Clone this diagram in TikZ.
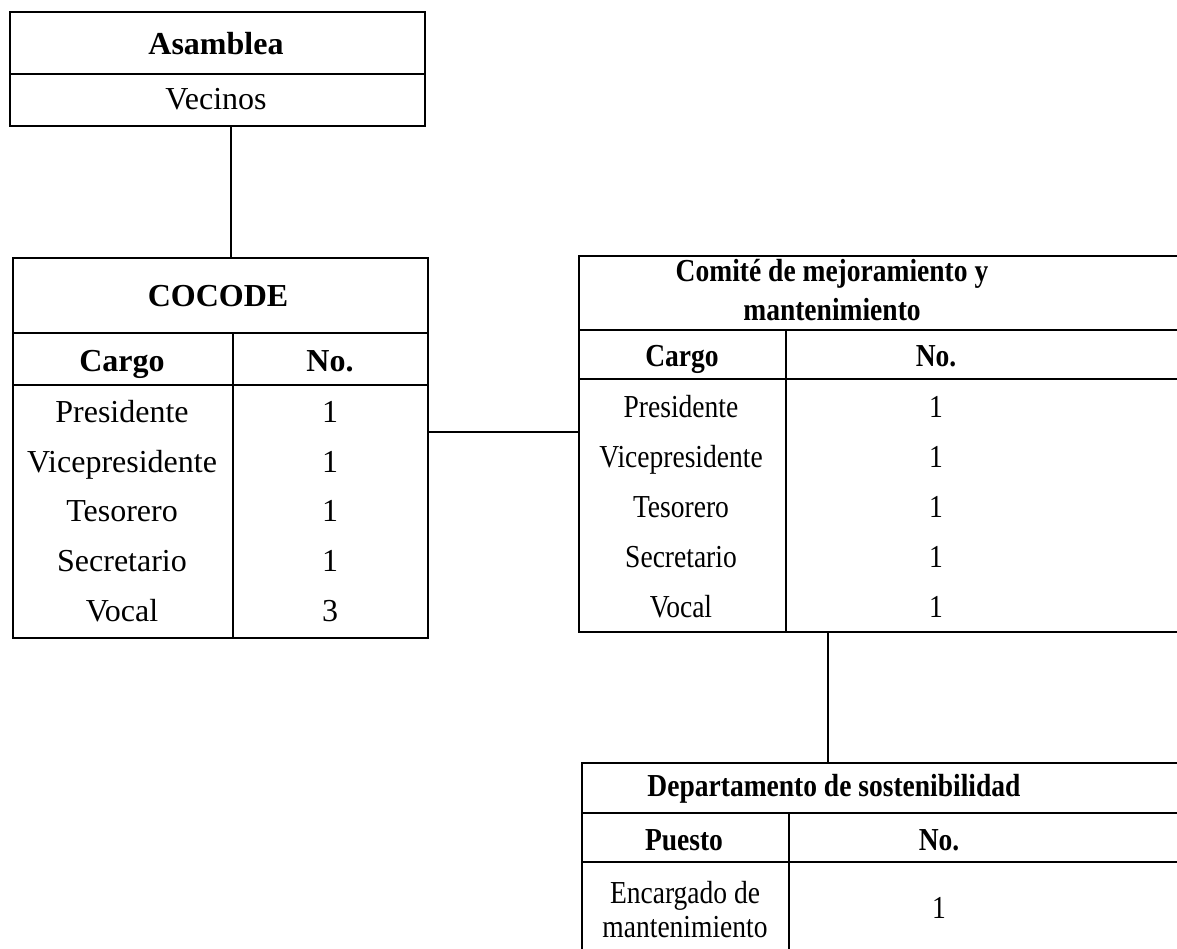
\documentclass[tikz,border=0pt]{standalone}
\usepackage{fontspec}
\setmainfont{Liberation Serif}
\newfontfamily\narrowfont{Liberation Serif}[FakeStretch=0.86]
\begin{document}
\begin{tikzpicture}[x=1pt,y=-1pt,
  line width=1.6pt,
  tbox/.style={draw=black, line width=1.6pt, inner sep=0pt, anchor=north west},
  lt/.style={anchor=base, inner sep=0pt, font=\fontsize{32}{36}\selectfont},
  lb/.style={lt, font=\fontsize{32}{36}\selectfont\bfseries},
  rt/.style={anchor=base, inner sep=0pt, font=\fontsize{32}{36}\selectfont\narrowfont},
  rb/.style={rt, font=\fontsize{32}{36}\selectfont\narrowfont\bfseries},
  conn/.style={draw=black, line width=1.6pt}]
\useasboundingbox (0,0) rectangle (1177,949);
\clip (0,0) rectangle (1177,949);
% Asamblea
\node[tbox, minimum width=415pt, minimum height=114pt] (asm) at (9,11) {};
\draw (asm.west |- 0,74) -- (asm.east |- 0,74);
\node[lb] (asmT) at (216,55) {Asamblea};
\node[lt] (asmV) at (216,110) {Vecinos};
% COCODE
\node[tbox, minimum width=415pt, minimum height=380pt] (coc) at (12,257) {};
\draw (coc.west |- 0,333) -- (coc.east |- 0,333);
\draw (coc.west |- 0,385) -- (coc.east |- 0,385);
\draw (233,333) -- (coc.south -| 233,0);
\node[lb] (cocT) at (218,307) {COCODE};
\node[lb] (cocC) at (122,371) {Cargo};
\node[lb] (cocN) at (330,371) {No.};
\node[lt] (c1) at (122,422) {Presidente};
\node[lt] (c2) at (122,472) {Vicepresidente};
\node[lt] (c3) at (122,521) {Tesorero};
\node[lt] (c4) at (122,571) {Secretario};
\node[lt] (c5) at (122,621) {Vocal};
\node[lt] (n1) at (330,422) {1};
\node[lt] (n2) at (330,472) {1};
\node[lt] (n3) at (330,521) {1};
\node[lt] (n4) at (330,571) {1};
\node[lt] (n5) at (330,621) {3};
% Comite
\node[tbox, minimum width=620pt, minimum height=376pt] (com) at (578,255) {};
\draw (com.west |- 0,330) -- (com.east |- 0,330);
\draw (com.west |- 0,379) -- (com.east |- 0,379);
\draw (786,330) -- (com.south -| 786,0);
\node[rb] (comT1) at (832,282) {Comité de mejoramiento y};
\node[rb] (comT2) at (832,320) {mantenimiento};
\node[rb] (comC) at (682,366) {Cargo};
\node[rb] (comN) at (936,366) {No.};
\node[rt] (r1) at (681,417) {Presidente};
\node[rt] (r2) at (681,467) {Vicepresidente};
\node[rt] (r3) at (681,517) {Tesorero};
\node[rt] (r4) at (681,567) {Secretario};
\node[rt] (r5) at (681,617) {Vocal};
\node[rt] (m1) at (936,417) {1};
\node[rt] (m2) at (936,467) {1};
\node[rt] (m3) at (936,517) {1};
\node[rt] (m4) at (936,567) {1};
\node[rt] (m5) at (936,617) {1};
% Departamento
\node[tbox, minimum width=620pt, minimum height=240pt] (dep) at (581,762) {};
\draw (dep.west |- 0,813) -- (dep.east |- 0,813);
\draw (dep.west |- 0,862) -- (dep.east |- 0,862);
\draw (789,813) -- (dep.south -| 789,0);
\node[rb] (depT) at (834,796) {Departamento de sostenibilidad};
\node[rb] (depP) at (684,850) {Puesto};
\node[rb] (depN) at (939,850) {No.};
\node[rt] (d1) at (685,903) {Encargado de};
\node[rt] (d2) at (685,937) {mantenimiento};
\node[rt] (dn) at (939,918) {1};
% connectors
\draw[conn] (asm.south -| 231,0) -- (coc.north -| 231,0);
\draw[conn] (coc.east |- 0,432) -- (com.west |- 0,432);
\draw[conn] (com.south -| 828,0) -- (dep.north -| 828,0);
\end{tikzpicture}
\end{document}
